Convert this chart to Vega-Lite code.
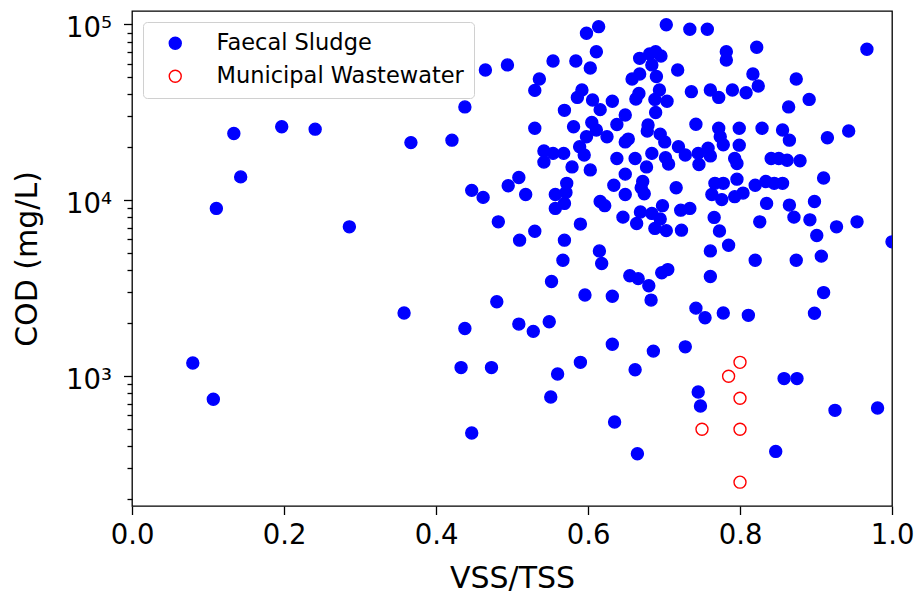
{
  "$schema": "https://vega.github.io/schema/vega-lite/v6.json",
  "width": 760,
  "height": 495,
  "autosize": {"type": "none"},
  "padding": {"left": 132, "top": 11, "right": 23, "bottom": 88},
  "background": "white",
  "config": {
    "font": "DejaVu Sans",
    "view": {"stroke": "#000", "strokeWidth": 1.3},
    "axis": {"grid": false, "domain": false, "tickColor": "#000", "tickWidth": 1.3, "labelColor": "#000", "titleColor": "#000", "labelFont": "DejaVu Sans", "titleFont": "DejaVu Sans", "titleFontWeight": "normal", "labelFlush": false, "labelOverlap": false, "labelBound": false}
  },
  "data": {"values": [
    {"vss_tss":0.134,"cod":24000,"type":"Faecal Sludge"},
    {"vss_tss":0.197,"cod":26200,"type":"Faecal Sludge"},
    {"vss_tss":0.241,"cod":25400,"type":"Faecal Sludge"},
    {"vss_tss":0.143,"cod":13600,"type":"Faecal Sludge"},
    {"vss_tss":0.111,"cod":9000,"type":"Faecal Sludge"},
    {"vss_tss":0.286,"cod":7070,"type":"Faecal Sludge"},
    {"vss_tss":0.367,"cod":21300,"type":"Faecal Sludge"},
    {"vss_tss":0.080,"cod":1190,"type":"Faecal Sludge"},
    {"vss_tss":0.107,"cod":740,"type":"Faecal Sludge"},
    {"vss_tss":0.358,"cod":2290,"type":"Faecal Sludge"},
    {"vss_tss":0.421,"cod":22000,"type":"Faecal Sludge"},
    {"vss_tss":0.438,"cod":34000,"type":"Faecal Sludge"},
    {"vss_tss":0.447,"cod":11400,"type":"Faecal Sludge"},
    {"vss_tss":0.462,"cod":10400,"type":"Faecal Sludge"},
    {"vss_tss":0.465,"cod":55100,"type":"Faecal Sludge"},
    {"vss_tss":0.482,"cod":7550,"type":"Faecal Sludge"},
    {"vss_tss":0.438,"cod":1870,"type":"Faecal Sludge"},
    {"vss_tss":0.433,"cod":1120,"type":"Faecal Sludge"},
    {"vss_tss":0.473,"cod":1120,"type":"Faecal Sludge"},
    {"vss_tss":0.480,"cod":2650,"type":"Faecal Sludge"},
    {"vss_tss":0.447,"cod":476,"type":"Faecal Sludge"},
    {"vss_tss":0.494,"cod":58900,"type":"Faecal Sludge"},
    {"vss_tss":0.536,"cod":49000,"type":"Faecal Sludge"},
    {"vss_tss":0.530,"cod":42200,"type":"Faecal Sludge"},
    {"vss_tss":0.554,"cod":62000,"type":"Faecal Sludge"},
    {"vss_tss":0.584,"cod":62000,"type":"Faecal Sludge"},
    {"vss_tss":0.598,"cod":89100,"type":"Faecal Sludge"},
    {"vss_tss":0.614,"cod":97200,"type":"Faecal Sludge"},
    {"vss_tss":0.611,"cod":70000,"type":"Faecal Sludge"},
    {"vss_tss":0.603,"cod":56600,"type":"Faecal Sludge"},
    {"vss_tss":0.592,"cod":42400,"type":"Faecal Sludge"},
    {"vss_tss":0.586,"cod":38500,"type":"Faecal Sludge"},
    {"vss_tss":0.606,"cod":37200,"type":"Faecal Sludge"},
    {"vss_tss":0.616,"cod":32800,"type":"Faecal Sludge"},
    {"vss_tss":0.569,"cod":32500,"type":"Faecal Sludge"},
    {"vss_tss":0.581,"cod":26200,"type":"Faecal Sludge"},
    {"vss_tss":0.530,"cod":25700,"type":"Faecal Sludge"},
    {"vss_tss":0.605,"cod":27700,"type":"Faecal Sludge"},
    {"vss_tss":0.611,"cod":25100,"type":"Faecal Sludge"},
    {"vss_tss":0.598,"cod":23000,"type":"Faecal Sludge"},
    {"vss_tss":0.589,"cod":20200,"type":"Faecal Sludge"},
    {"vss_tss":0.595,"cod":18100,"type":"Faecal Sludge"},
    {"vss_tss":0.542,"cod":19100,"type":"Faecal Sludge"},
    {"vss_tss":0.554,"cod":18500,"type":"Faecal Sludge"},
    {"vss_tss":0.568,"cod":18500,"type":"Faecal Sludge"},
    {"vss_tss":0.542,"cod":16500,"type":"Faecal Sludge"},
    {"vss_tss":0.579,"cod":15500,"type":"Faecal Sludge"},
    {"vss_tss":0.603,"cod":14900,"type":"Faecal Sludge"},
    {"vss_tss":0.509,"cod":13500,"type":"Faecal Sludge"},
    {"vss_tss":0.495,"cod":12100,"type":"Faecal Sludge"},
    {"vss_tss":0.518,"cod":10800,"type":"Faecal Sludge"},
    {"vss_tss":0.572,"cod":12500,"type":"Faecal Sludge"},
    {"vss_tss":0.571,"cod":11100,"type":"Faecal Sludge"},
    {"vss_tss":0.557,"cod":10800,"type":"Faecal Sludge"},
    {"vss_tss":0.569,"cod":9610,"type":"Faecal Sludge"},
    {"vss_tss":0.557,"cod":9000,"type":"Faecal Sludge"},
    {"vss_tss":0.510,"cod":5940,"type":"Faecal Sludge"},
    {"vss_tss":0.530,"cod":6680,"type":"Faecal Sludge"},
    {"vss_tss":0.569,"cod":5940,"type":"Faecal Sludge"},
    {"vss_tss":0.590,"cod":7330,"type":"Faecal Sludge"},
    {"vss_tss":0.567,"cod":4570,"type":"Faecal Sludge"},
    {"vss_tss":0.552,"cod":3460,"type":"Faecal Sludge"},
    {"vss_tss":0.596,"cod":2900,"type":"Faecal Sludge"},
    {"vss_tss":0.509,"cod":1980,"type":"Faecal Sludge"},
    {"vss_tss":0.528,"cod":1800,"type":"Faecal Sludge"},
    {"vss_tss":0.549,"cod":2040,"type":"Faecal Sludge"},
    {"vss_tss":0.590,"cod":1200,"type":"Faecal Sludge"},
    {"vss_tss":0.560,"cod":1030,"type":"Faecal Sludge"},
    {"vss_tss":0.551,"cod":762,"type":"Faecal Sludge"},
    {"vss_tss":0.615,"cod":5160,"type":"Faecal Sludge"},
    {"vss_tss":0.618,"cod":4380,"type":"Faecal Sludge"},
    {"vss_tss":0.616,"cod":9860,"type":"Faecal Sludge"},
    {"vss_tss":0.622,"cod":9330,"type":"Faecal Sludge"},
    {"vss_tss":0.632,"cod":36600,"type":"Faecal Sludge"},
    {"vss_tss":0.649,"cod":30600,"type":"Faecal Sludge"},
    {"vss_tss":0.638,"cod":27000,"type":"Faecal Sludge"},
    {"vss_tss":0.625,"cod":23000,"type":"Faecal Sludge"},
    {"vss_tss":0.638,"cod":17300,"type":"Faecal Sludge"},
    {"vss_tss":0.649,"cod":21500,"type":"Faecal Sludge"},
    {"vss_tss":0.653,"cod":22300,"type":"Faecal Sludge"},
    {"vss_tss":0.662,"cod":17300,"type":"Faecal Sludge"},
    {"vss_tss":0.677,"cod":15500,"type":"Faecal Sludge"},
    {"vss_tss":0.649,"cod":14100,"type":"Faecal Sludge"},
    {"vss_tss":0.634,"cod":12200,"type":"Faecal Sludge"},
    {"vss_tss":0.672,"cod":12800,"type":"Faecal Sludge"},
    {"vss_tss":0.670,"cod":11800,"type":"Faecal Sludge"},
    {"vss_tss":0.674,"cod":10900,"type":"Faecal Sludge"},
    {"vss_tss":0.649,"cod":10800,"type":"Faecal Sludge"},
    {"vss_tss":0.646,"cod":8030,"type":"Faecal Sludge"},
    {"vss_tss":0.669,"cod":8580,"type":"Faecal Sludge"},
    {"vss_tss":0.664,"cod":7390,"type":"Faecal Sludge"},
    {"vss_tss":0.684,"cod":8430,"type":"Faecal Sludge"},
    {"vss_tss":0.695,"cod":7830,"type":"Faecal Sludge"},
    {"vss_tss":0.688,"cod":6930,"type":"Faecal Sludge"},
    {"vss_tss":0.698,"cod":9330,"type":"Faecal Sludge"},
    {"vss_tss":0.703,"cod":6730,"type":"Faecal Sludge"},
    {"vss_tss":0.723,"cod":6770,"type":"Faecal Sludge"},
    {"vss_tss":0.722,"cod":8800,"type":"Faecal Sludge"},
    {"vss_tss":0.734,"cod":9000,"type":"Faecal Sludge"},
    {"vss_tss":0.716,"cod":11800,"type":"Faecal Sludge"},
    {"vss_tss":0.684,"cod":18500,"type":"Faecal Sludge"},
    {"vss_tss":0.702,"cod":17500,"type":"Faecal Sludge"},
    {"vss_tss":0.706,"cod":16100,"type":"Faecal Sludge"},
    {"vss_tss":0.719,"cod":20200,"type":"Faecal Sludge"},
    {"vss_tss":0.728,"cod":18100,"type":"Faecal Sludge"},
    {"vss_tss":0.745,"cod":18500,"type":"Faecal Sludge"},
    {"vss_tss":0.746,"cod":16000,"type":"Faecal Sludge"},
    {"vss_tss":0.679,"cod":26800,"type":"Faecal Sludge"},
    {"vss_tss":0.695,"cod":23800,"type":"Faecal Sludge"},
    {"vss_tss":0.701,"cod":21500,"type":"Faecal Sludge"},
    {"vss_tss":0.742,"cod":27100,"type":"Faecal Sludge"},
    {"vss_tss":0.689,"cod":31600,"type":"Faecal Sludge"},
    {"vss_tss":0.667,"cod":40500,"type":"Faecal Sludge"},
    {"vss_tss":0.663,"cod":37700,"type":"Faecal Sludge"},
    {"vss_tss":0.694,"cod":42400,"type":"Faecal Sludge"},
    {"vss_tss":0.688,"cod":37500,"type":"Faecal Sludge"},
    {"vss_tss":0.704,"cod":36600,"type":"Faecal Sludge"},
    {"vss_tss":0.658,"cod":49000,"type":"Faecal Sludge"},
    {"vss_tss":0.668,"cod":52300,"type":"Faecal Sludge"},
    {"vss_tss":0.690,"cod":50600,"type":"Faecal Sludge"},
    {"vss_tss":0.718,"cod":55100,"type":"Faecal Sludge"},
    {"vss_tss":0.668,"cod":64200,"type":"Faecal Sludge"},
    {"vss_tss":0.681,"cod":67900,"type":"Faecal Sludge"},
    {"vss_tss":0.689,"cod":70000,"type":"Faecal Sludge"},
    {"vss_tss":0.696,"cod":66200,"type":"Faecal Sludge"},
    {"vss_tss":0.684,"cod":58900,"type":"Faecal Sludge"},
    {"vss_tss":0.703,"cod":99700,"type":"Faecal Sludge"},
    {"vss_tss":0.734,"cod":94000,"type":"Faecal Sludge"},
    {"vss_tss":0.736,"cod":41500,"type":"Faecal Sludge"},
    {"vss_tss":0.655,"cod":3730,"type":"Faecal Sludge"},
    {"vss_tss":0.666,"cod":3590,"type":"Faecal Sludge"},
    {"vss_tss":0.680,"cod":3270,"type":"Faecal Sludge"},
    {"vss_tss":0.697,"cod":3880,"type":"Faecal Sludge"},
    {"vss_tss":0.705,"cod":4040,"type":"Faecal Sludge"},
    {"vss_tss":0.632,"cod":2850,"type":"Faecal Sludge"},
    {"vss_tss":0.683,"cod":2710,"type":"Faecal Sludge"},
    {"vss_tss":0.632,"cod":1520,"type":"Faecal Sludge"},
    {"vss_tss":0.686,"cod":1390,"type":"Faecal Sludge"},
    {"vss_tss":0.728,"cod":1470,"type":"Faecal Sludge"},
    {"vss_tss":0.662,"cod":1090,"type":"Faecal Sludge"},
    {"vss_tss":0.635,"cod":550,"type":"Faecal Sludge"},
    {"vss_tss":0.665,"cod":363,"type":"Faecal Sludge"},
    {"vss_tss":0.742,"cod":2440,"type":"Faecal Sludge"},
    {"vss_tss":0.745,"cod":814,"type":"Faecal Sludge"},
    {"vss_tss":0.748,"cod":678,"type":"Faecal Sludge"},
    {"vss_tss":0.678,"cod":24800,"type":"Faecal Sludge"},
    {"vss_tss":0.757,"cod":94000,"type":"Faecal Sludge"},
    {"vss_tss":0.782,"cod":70000,"type":"Faecal Sludge"},
    {"vss_tss":0.782,"cod":62800,"type":"Faecal Sludge"},
    {"vss_tss":0.822,"cod":74200,"type":"Faecal Sludge"},
    {"vss_tss":0.967,"cod":72300,"type":"Faecal Sludge"},
    {"vss_tss":0.817,"cod":52300,"type":"Faecal Sludge"},
    {"vss_tss":0.824,"cod":44700,"type":"Faecal Sludge"},
    {"vss_tss":0.874,"cod":49000,"type":"Faecal Sludge"},
    {"vss_tss":0.761,"cod":42400,"type":"Faecal Sludge"},
    {"vss_tss":0.772,"cod":38500,"type":"Faecal Sludge"},
    {"vss_tss":0.790,"cod":42400,"type":"Faecal Sludge"},
    {"vss_tss":0.808,"cod":40900,"type":"Faecal Sludge"},
    {"vss_tss":0.891,"cod":37500,"type":"Faecal Sludge"},
    {"vss_tss":0.864,"cod":34000,"type":"Faecal Sludge"},
    {"vss_tss":0.772,"cod":25700,"type":"Faecal Sludge"},
    {"vss_tss":0.774,"cod":23000,"type":"Faecal Sludge"},
    {"vss_tss":0.778,"cod":20700,"type":"Faecal Sludge"},
    {"vss_tss":0.799,"cod":25700,"type":"Faecal Sludge"},
    {"vss_tss":0.799,"cod":20600,"type":"Faecal Sludge"},
    {"vss_tss":0.829,"cod":25700,"type":"Faecal Sludge"},
    {"vss_tss":0.856,"cod":25100,"type":"Faecal Sludge"},
    {"vss_tss":0.865,"cod":22000,"type":"Faecal Sludge"},
    {"vss_tss":0.915,"cod":22700,"type":"Faecal Sludge"},
    {"vss_tss":0.943,"cod":24800,"type":"Faecal Sludge"},
    {"vss_tss":0.758,"cod":19800,"type":"Faecal Sludge"},
    {"vss_tss":0.761,"cod":17900,"type":"Faecal Sludge"},
    {"vss_tss":0.793,"cod":17300,"type":"Faecal Sludge"},
    {"vss_tss":0.796,"cod":16200,"type":"Faecal Sludge"},
    {"vss_tss":0.841,"cod":17300,"type":"Faecal Sludge"},
    {"vss_tss":0.851,"cod":17300,"type":"Faecal Sludge"},
    {"vss_tss":0.862,"cod":16900,"type":"Faecal Sludge"},
    {"vss_tss":0.879,"cod":16800,"type":"Faecal Sludge"},
    {"vss_tss":0.910,"cod":13400,"type":"Faecal Sludge"},
    {"vss_tss":0.767,"cod":12500,"type":"Faecal Sludge"},
    {"vss_tss":0.778,"cod":12500,"type":"Faecal Sludge"},
    {"vss_tss":0.796,"cod":13200,"type":"Faecal Sludge"},
    {"vss_tss":0.763,"cod":10800,"type":"Faecal Sludge"},
    {"vss_tss":0.776,"cod":10100,"type":"Faecal Sludge"},
    {"vss_tss":0.793,"cod":10500,"type":"Faecal Sludge"},
    {"vss_tss":0.804,"cod":11000,"type":"Faecal Sludge"},
    {"vss_tss":0.820,"cod":12200,"type":"Faecal Sludge"},
    {"vss_tss":0.834,"cod":12800,"type":"Faecal Sludge"},
    {"vss_tss":0.845,"cod":12500,"type":"Faecal Sludge"},
    {"vss_tss":0.856,"cod":12500,"type":"Faecal Sludge"},
    {"vss_tss":0.835,"cod":9610,"type":"Faecal Sludge"},
    {"vss_tss":0.865,"cod":9400,"type":"Faecal Sludge"},
    {"vss_tss":0.871,"cod":8030,"type":"Faecal Sludge"},
    {"vss_tss":0.898,"cod":9860,"type":"Faecal Sludge"},
    {"vss_tss":0.892,"cod":7750,"type":"Faecal Sludge"},
    {"vss_tss":0.901,"cod":6320,"type":"Faecal Sludge"},
    {"vss_tss":0.927,"cod":7070,"type":"Faecal Sludge"},
    {"vss_tss":0.954,"cod":7550,"type":"Faecal Sludge"},
    {"vss_tss":1.0,"cod":5810,"type":"Faecal Sludge"},
    {"vss_tss":0.826,"cod":7550,"type":"Faecal Sludge"},
    {"vss_tss":0.766,"cod":8000,"type":"Faecal Sludge"},
    {"vss_tss":0.773,"cod":6700,"type":"Faecal Sludge"},
    {"vss_tss":0.785,"cod":5560,"type":"Faecal Sludge"},
    {"vss_tss":0.761,"cod":5160,"type":"Faecal Sludge"},
    {"vss_tss":0.820,"cod":4570,"type":"Faecal Sludge"},
    {"vss_tss":0.874,"cod":4570,"type":"Faecal Sludge"},
    {"vss_tss":0.907,"cod":4820,"type":"Faecal Sludge"},
    {"vss_tss":0.761,"cod":3690,"type":"Faecal Sludge"},
    {"vss_tss":0.910,"cod":2990,"type":"Faecal Sludge"},
    {"vss_tss":0.754,"cod":2150,"type":"Faecal Sludge"},
    {"vss_tss":0.778,"cod":2290,"type":"Faecal Sludge"},
    {"vss_tss":0.811,"cod":2220,"type":"Faecal Sludge"},
    {"vss_tss":0.898,"cod":2280,"type":"Faecal Sludge"},
    {"vss_tss":0.858,"cod":970,"type":"Faecal Sludge"},
    {"vss_tss":0.875,"cod":970,"type":"Faecal Sludge"},
    {"vss_tss":0.925,"cod":640,"type":"Faecal Sludge"},
    {"vss_tss":0.981,"cod":660,"type":"Faecal Sludge"},
    {"vss_tss":0.847,"cod":374,"type":"Faecal Sludge"},
    {"vss_tss":0.8,"cod":1200,"type":"Municipal Wastewater"},
    {"vss_tss":0.785,"cod":1000,"type":"Municipal Wastewater"},
    {"vss_tss":0.8,"cod":750,"type":"Municipal Wastewater"},
    {"vss_tss":0.75,"cod":500,"type":"Municipal Wastewater"},
    {"vss_tss":0.8,"cod":500,"type":"Municipal Wastewater"},
    {"vss_tss":0.8,"cod":250,"type":"Municipal Wastewater"}
  ]},
  "mark": {"type": "circle", "size": 144, "strokeWidth": 1.4, "opacity": 1, "clip": true},
  "encoding": {
    "x": {"field": "vss_tss", "type": "quantitative", "scale": {"domain": [0, 1], "nice": false, "zero": false},
      "axis": {"values": [0, 0.2, 0.4, 0.6, 0.8, 1.0], "format": ".1f", "labelFontSize": 27.5, "tickSize": 8.5, "labelPadding": 7,
        "title": "VSS/TSS", "titleFontSize": 30, "titleX": 380, "titleY": 81.5, "titleBaseline": "alphabetic", "titleAlign": "center"}},
    "y": {"field": "cod", "type": "quantitative", "scale": {"type": "log", "domain": [183, 119300], "nice": false},
      "axis": {"values": [200,300,400,500,600,700,800,900,1000,2000,3000,4000,5000,6000,7000,8000,9000,10000,20000,30000,40000,50000,60000,70000,80000,90000,100000],
        "labelExpr": "datum.value == 1000 ? '10³' : datum.value == 10000 ? '10⁴' : datum.value == 100000 ? '10⁵' : ''",
        "tickSize": {"condition": {"test": "datum.value == 1000 || datum.value == 10000 || datum.value == 100000", "value": 8.5}, "value": 5},
        "labelFontSize": 27.5, "labelPadding": 12, "labelOffset": 4,
        "title": "COD (mg/L)", "titleFontSize": 30, "titleX": -96, "titleY": 247.5, "titleBaseline": "alphabetic", "titleAlign": "center", "titleAngle": -90}},
    "fill": {"field": "type", "type": "nominal",
      "scale": {"domain": ["Faecal Sludge", "Municipal Wastewater"], "range": ["#0000ff", "transparent"]},
      "legend": {"title": null, "orient": "top-left", "offset": 11, "padding": 10, "symbolOffset": 11, "labelOffset": 30, "labelLimit": 400, "rowPadding": 10, "symbolType": "circle", "symbolSize": 144, "symbolStrokeWidth": 1.4, "labelFontSize": 22.5, "labelColor": "#000", "strokeColor": "#d0d0d0", "fillColor": "white", "cornerRadius": 4}},
    "stroke": {"field": "type", "type": "nominal",
      "scale": {"domain": ["Faecal Sludge", "Municipal Wastewater"], "range": ["#0000ff", "#ff0000"]},
      "legend": {"title": null, "orient": "top-left", "offset": 11, "padding": 10, "symbolOffset": 11, "labelOffset": 30, "labelLimit": 400, "rowPadding": 10, "symbolType": "circle", "symbolSize": 144, "symbolStrokeWidth": 1.4, "labelFontSize": 22.5, "labelColor": "#000", "strokeColor": "#d0d0d0", "fillColor": "white", "cornerRadius": 4}}
  }
}
